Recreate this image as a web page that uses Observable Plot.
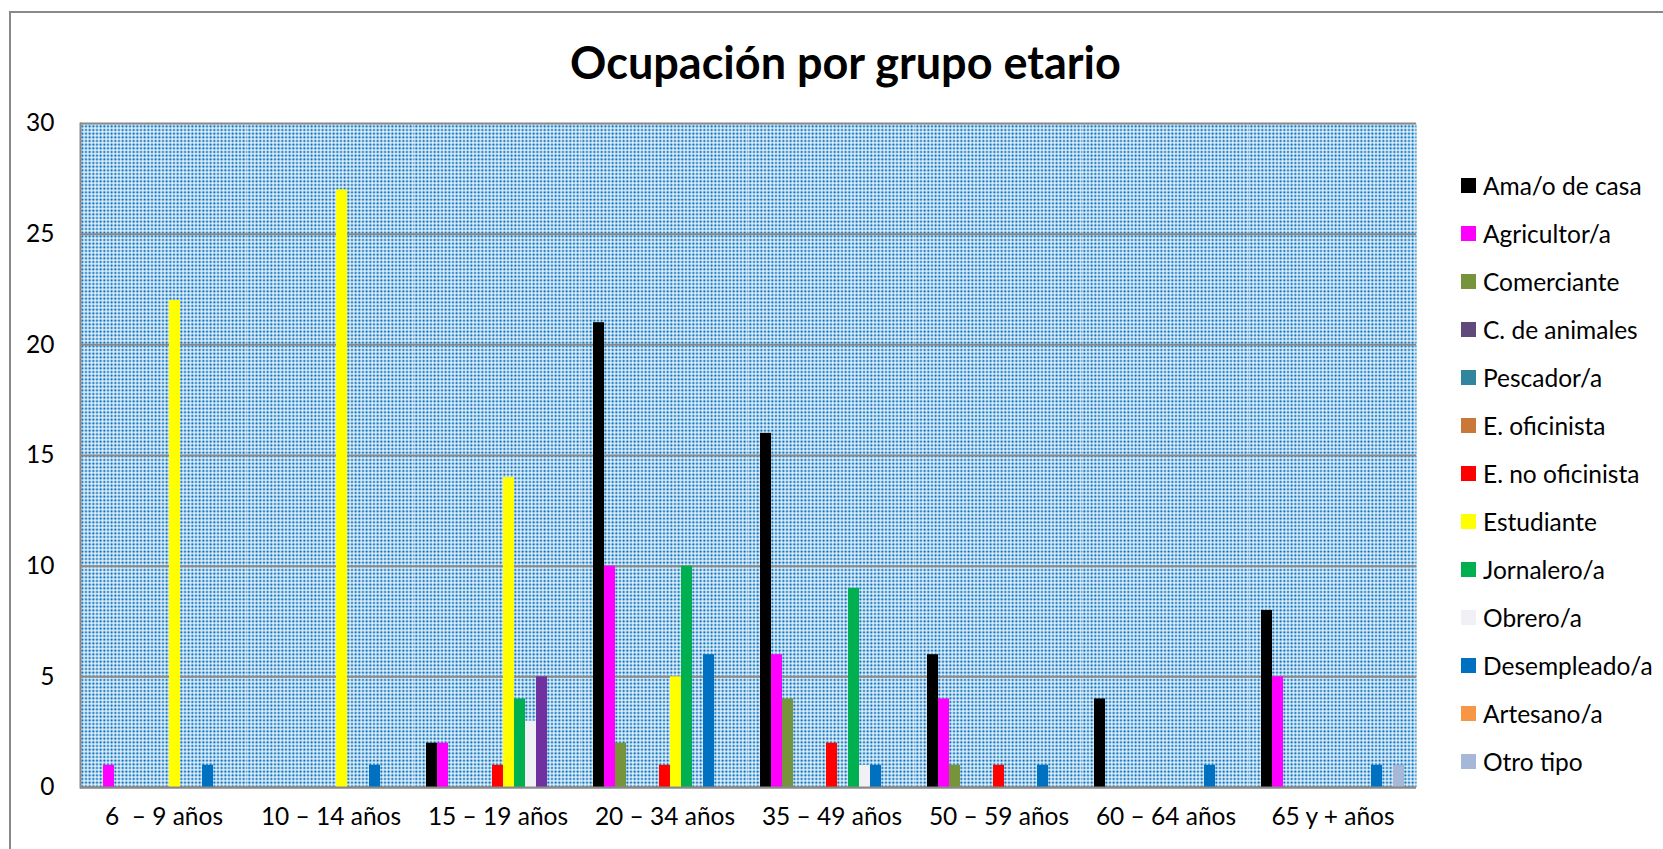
<!DOCTYPE html>
<html>
<head>
<meta charset="utf-8">
<script src="https://cdn.jsdelivr.net/npm/d3@7"></script>
<script src="https://cdn.jsdelivr.net/npm/@observablehq/plot@0.6"></script>
<style>
  html, body { margin: 0; padding: 0; background: #fff; }
  #wrap { position: relative; width: 1663px; height: 849px; overflow: hidden; font-family: Lato, "Open Sans", sans-serif; color: #000; }
  #border { position: absolute; left: 9px; top: 11px; width: 1700px; height: 900px; border-left: 2px solid #898989; border-top: 2px solid #898989; }
  #title { position: absolute; left: 0; width: 1691px; top: 34px; text-align: center; font-weight: bold; font-size: 45px; line-height: 56px; }
  #chart { position: absolute; left: 0; top: 0; }
  #legend { position: absolute; left: 1461px; top: 0; }
  .item { position: absolute; left: 0; height: 30px; display: flex; align-items: center; white-space: nowrap; font-size: 24.5px; }
  .sw { width: 15px; height: 15px; margin-right: 7px; flex: none; }
</style>
</head>
<body>
<div id="wrap">
  <div id="border"></div>
  <div id="title">Ocupación por grupo etario</div>
  <div id="chart"></div>
  <div id="legend"></div>
</div>
<script>
// ---- data ----
const groups = ["6  – 9 años", "10 – 14 años", "15 – 19 años", "20 – 34 años", "35 – 49 años", "50 – 59 años", "60 – 64 años", "65 y + años"];
const series = ["Ama/o de casa", "Agricultor/a", "Comerciante", "C. de animales", "Pescador/a", "E. oficinista", "E. no oficinista", "Estudiante", "Jornalero/a", "Obrero/a", "Desempleado/a", "Artesano/a", "Otro tipo"];
const colors = ["#000000", "#FF00FF", "#77933C", "#604A7B", "#31859C", "#C9783A", "#FF0000", "#FFFF00", "#00B050", "#F2F0F7", "#0070C0", "#F79646", "#A7B7D7"];
// values per series, one entry per age group
const amaDeCasa      = [0, 0, 2, 21, 16, 6, 4, 8];
const agricultor     = [1, 0, 2, 10, 6, 4, 0, 5];
const comerciante    = [0, 0, 0, 2, 4, 1, 0, 0];
const cAnimales      = [0, 0, 0, 0, 0, 0, 0, 0];
const pescador       = [0, 0, 0, 0, 0, 0, 0, 0];
const eOficinista    = [0, 0, 0, 0, 0, 0, 0, 0];
const eNoOficinista  = [0, 0, 1, 1, 2, 1, 0, 0];
const estudiante     = [22, 27, 14, 5, 0, 0, 0, 0];
const jornalero      = [0, 0, 4, 10, 9, 0, 0, 0];
const obrero         = [0, 0, 3, 0, 1, 0, 0, 0];
const desempleado    = [1, 1, 5, 6, 1, 1, 1, 1];
const artesano       = [0, 0, 0, 0, 0, 0, 0, 0];
const otroTipo       = [0, 0, 0, 0, 0, 0, 0, 1];
const seriesValues = [amaDeCasa, agricultor, comerciante, cAnimales, pescador, eOficinista, eNoOficinista, estudiante, jornalero, obrero, desempleado, artesano, otroTipo];
// single data point drawn with a different fill in the original
const pointColorOverrides = [{group: "15 – 19 años", series: "Desempleado/a", color: "#7030A0"}];
const yTicks = [0, 5, 10, 15, 20, 25, 30];

// ---- table ----
const rows = [];
groups.forEach((g, gi) => {
  series.forEach((s, si) => {
    const v = seriesValues[si][gi];
    if (v > 0) {
      const ov = pointColorOverrides.find(o => o.group === g && o.series === s);
      rows.push({group: g, series: s, value: v, color: ov ? ov.color : colors[si]});
    }
  });
});

const gray = "#898989";
const chart = Plot.plot({
  width: 1440,
  height: 849,
  marginLeft: 80,
  marginRight: 24,
  marginTop: 123,
  marginBottom: 62,
  style: {fontFamily: "Lato, 'Open Sans', sans-serif", color: "#000", background: "transparent"},
  fx: {domain: groups, padding: 0, label: null},
  x: {domain: series, paddingInner: 0, paddingOuter: 0.7, axis: null},
  y: {domain: [0, 30], label: null},
  color: {type: "identity"},
  marks: [
    Plot.frame({fill: "url(#dots)", stroke: null}),
    Plot.ruleY(yTicks, {stroke: gray, strokeWidth: 2}),
    Plot.barY(rows, {fx: "group", x: "series", y: "value", fill: "color"}),
    Plot.ruleY([0], {stroke: gray, strokeWidth: 2}),
    Plot.frame({anchor: "left", facetAnchor: "left", stroke: gray, strokeWidth: 2}),
    Plot.axisY({ticks: yTicks, tickSize: 0, tickPadding: 26, fontSize: 24.5, label: null}),
    Plot.axisFx({anchor: "bottom", tickSize: 0, tickPadding: 20, fontSize: 24.5, label: null})
  ]
});

// dotted background pattern
const svg = d3.select(chart);
const pat = svg.insert("defs", ":first-child")
  .append("pattern").attr("id", "dots").attr("patternUnits", "userSpaceOnUse")
  .attr("width", 11).attr("height", 11);
pat.append("rect").attr("width", 11).attr("height", 11).attr("fill", "#fff");
for (const px of [0, 11 / 3, 22 / 3]) for (const py of [0, 11 / 3, 22 / 3]) {
  pat.append("rect").attr("x", px).attr("y", py).attr("width", 2.3).attr("height", 2.3)
    .attr("fill", "#0070C0");
}

document.getElementById("chart").appendChild(chart);

// legend
const legend = document.getElementById("legend");
series.forEach((s, i) => {
  const it = document.createElement("div");
  it.className = "item";
  it.style.top = (185.6 - 15 + 48 * i) + "px";
  const sw = document.createElement("span");
  sw.className = "sw";
  sw.style.background = colors[i];
  const tx = document.createElement("span");
  tx.textContent = s;
  it.appendChild(sw);
  it.appendChild(tx);
  legend.appendChild(it);
});
</script>
</body>
</html>
